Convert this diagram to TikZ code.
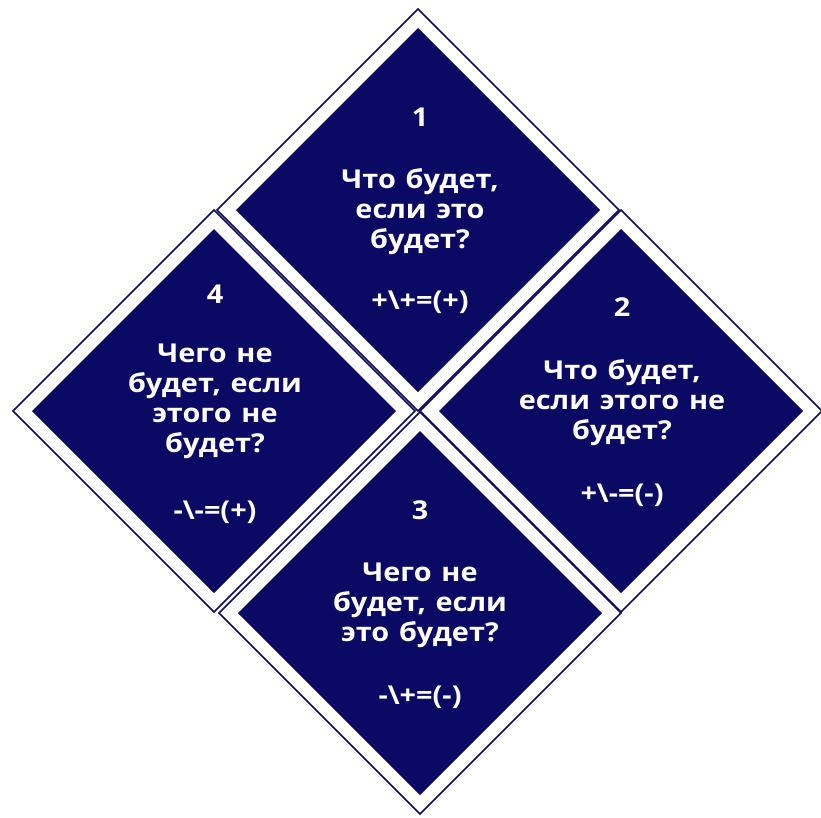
\documentclass[tikz,border=0pt]{standalone}
\usepackage{fontspec}
\setmainfont{Open Sans}[FakeStretch=1.11, WordSpace=1.3]
\definecolor{navy}{RGB}{10,10,100}
\begin{document}
\begin{tikzpicture}[x=1pt,y=-1pt,
  txt/.style={text=white, font=\bfseries\fontsize{26}{30}\selectfont, align=center, inner sep=0pt},
  frame/.style={draw=navy, line width=1.5pt, fill=white},
  core/.style={fill=navy}]
\useasboundingbox (0,0) rectangle (821,817);
\foreach \cx/\cy in {418/210, 621/411, 420/613, 214/411} {
  \draw[frame] (\cx,\cy-201) -- (\cx+201,\cy) -- (\cx,\cy+201) -- (\cx-201,\cy) -- cycle;
  \fill[core] (\cx,\cy-182) -- (\cx+182,\cy) -- (\cx,\cy+182) -- (\cx-182,\cy) -- cycle;
}
% tile 1
\node[txt] (n1) at (420,117) {1};
\node[txt] (q1) at (420,212) {Что будет,\\если это\\будет?};
\node[txt] (f1) at (420,302) {+\textbackslash+=(+)};
% tile 2
\node[txt] (n2) at (622,307) {2};
\node[txt] (q2) at (622,403) {Что будет,\\если этого не\\будет?};
\node[txt] (f2) at (622,495) {+\textbackslash-=(-)};
% tile 3
\node[txt] (n3) at (420,510) {3};
\node[txt] (q3) at (420,605) {Чего не\\будет, если\\это будет?};
\node[txt] (f3) at (420,697) {-\textbackslash+=(-)};
% tile 4
\node[txt] (n4) at (215,294) {4};
\node[txt] (q4) at (215,401) {Чего не\\будет, если\\этого не\\будет?};
\node[txt] (f4) at (215,512) {-\textbackslash-=(+)};
\end{tikzpicture}
\end{document}
